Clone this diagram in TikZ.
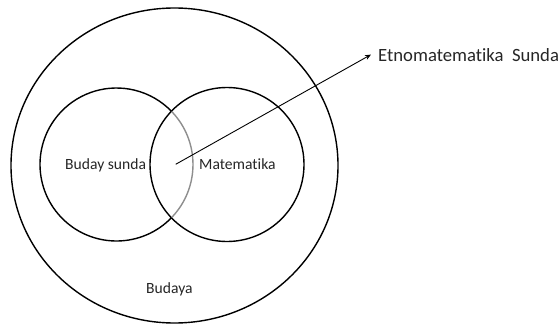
\documentclass[tikz,border=0pt]{standalone}
\usepackage{fontspec}
\setmainfont{Carlito}[Ligatures=NoCommon]
\usepackage{xcolor}
\usetikzlibrary{arrows.meta,positioning,calc}
\definecolor{setgray}{HTML}{8E8E8E}
\definecolor{textdark}{HTML}{262626}
\tikzset{
  setline/.style={line width=1.4pt,draw=black},
  setlabel/.style={anchor=base west,inner sep=0pt,text=textdark,
    font=\fontsize{15.6}{18}\selectfont},
  calloutlabel/.style={anchor=base west,inner ysep=0pt,inner xsep=7pt,text=textdark,
    font=\fontsize{18.7}{22}\selectfont},
  pointarrow/.style={-{Stealth[length=6pt,width=5pt]},line width=0.9pt,draw=black}
}

\begin{document}
\begin{tikzpicture}[x=1pt,y=-1pt]
\useasboundingbox (0,0) rectangle (560,324);
% set centres
\coordinate (budaya) at (174.5,165.5);
\coordinate (sunda) at (116.5,164.5);
\coordinate (mat) at (227,164.5);
\coordinate (irisan) at (175.7,164.3);

\draw[setline] (budaya) ellipse [x radius=163.5,y radius=157.5];
\draw[setline] (mat) circle [radius=77];
\draw[setline] (sunda) ++(43.8:76.5) arc [start angle=43.8,end angle=316.2,radius=76.5];
\draw[setline,draw=setgray] (sunda) ++(-43.8:76.5) arc [start angle=-43.8,end angle=43.8,radius=76.5];

\node[setlabel] (sundatext) at (65,169) {Buday sunda};
\node[setlabel] (mattext) at (199,169) {Matematika};
\node[setlabel] (budayatext) at (146,293) {Budaya};
\node[calloutlabel] (etno) at (371,61) {Etnomatematika\ \ Sunda};

\draw[pointarrow] (irisan) -- (etno.west);
\end{tikzpicture}
\end{document}
